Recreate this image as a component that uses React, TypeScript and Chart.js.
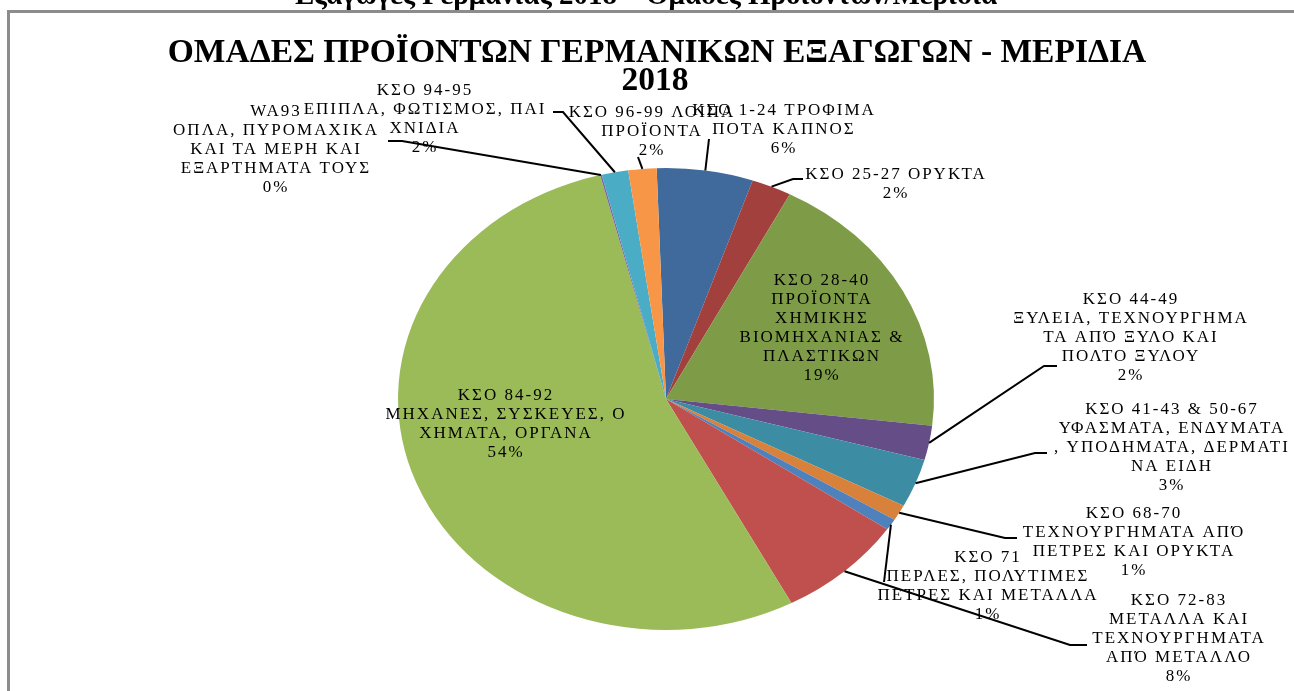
import React, { useEffect, useRef } from "react";
import { Chart, registerables } from "chart.js";

Chart.register(...registerables);

// ---------- data ----------
const pageHeading = "Εξαγωγές Γερμανίας 2018 – Ομάδες Προϊόντων/Μερίδια";
const chartTitle = ["ΟΜΑΔΕΣ ΠΡΟΪΟΝΤΩΝ ΓΕΡΜΑΝΙΚΩΝ ΕΞΑΓΩΓΩΝ - ΜΕΡΙΔΙΑ", "2018"];

const categories = [
  "ΚΣΟ 1-24 ΤΡΟΦΙΜΑ ΠΟΤΑ ΚΑΠΝΟΣ",
  "ΚΣΟ 25-27 ΟΡΥΚΤΑ",
  "ΚΣΟ 28-40 ΠΡΟΪΟΝΤΑ ΧΗΜΙΚΗΣ ΒΙΟΜΗΧΑΝΙΑΣ & ΠΛΑΣΤΙΚΩΝ",
  "ΚΣΟ 44-49 ΞΥΛΕΙΑ, ΤΕΧΝΟΥΡΓΗΜΑΤΑ ΑΠΌ ΞΥΛΟ ΚΑΙ ΠΟΛΤΟ ΞΥΛΟΥ",
  "ΚΣΟ 41-43 & 50-67 ΥΦΑΣΜΑΤΑ, ΕΝΔΥΜΑΤΑ, ΥΠΟΔΗΜΑΤΑ, ΔΕΡΜΑΤΙΝΑ ΕΙΔΗ",
  "ΚΣΟ 68-70 ΤΕΧΝΟΥΡΓΗΜΑΤΑ ΑΠΌ ΠΕΤΡΕΣ ΚΑΙ ΟΡΥΚΤΑ",
  "ΚΣΟ 71 ΠΕΡΛΕΣ, ΠΟΛΥΤΙΜΕΣ ΠΕΤΡΕΣ ΚΑΙ ΜΕΤΑΛΛΑ",
  "ΚΣΟ 72-83 ΜΕΤΑΛΛΑ ΚΑΙ ΤΕΧΝΟΥΡΓΗΜΑΤΑ ΑΠΌ ΜΕΤΑΛΛΟ",
  "ΚΣΟ 84-92 ΜΗΧΑΝΕΣ, ΣΥΣΚΕΥΕΣ, ΟΧΗΜΑΤΑ, ΟΡΓΑΝΑ",
  "WA93 ΟΠΛΑ, ΠΥΡΟΜΑΧΙΚΑ ΚΑΙ ΤΑ ΜΕΡΗ ΚΑΙ ΕΞΑΡΤΗΜΑΤΑ ΤΟΥΣ",
  "ΚΣΟ 94-95 ΕΠΙΠΛΑ, ΦΩΤΙΣΜΟΣ, ΠΑΙΧΝΙΔΙΑ",
  "ΚΣΟ 96-99 ΛΟΙΠΑ ΠΡΟΪΟΝΤΑ",
];

// wrapped label lines as shown in the chart (percentage is appended from the data)
const labelLines = [
  ["ΚΣΟ 1-24 ΤΡΟΦΙΜΑ", "ΠΟΤΑ ΚΑΠΝΟΣ"],
  ["ΚΣΟ 25-27 ΟΡΥΚΤΑ"],
  ["ΚΣΟ 28-40", "ΠΡΟΪΟΝΤΑ", "ΧΗΜΙΚΗΣ", "ΒΙΟΜΗΧΑΝΙΑΣ &", "ΠΛΑΣΤΙΚΩΝ"],
  ["ΚΣΟ 44-49", "ΞΥΛΕΙΑ, ΤΕΧΝΟΥΡΓΗΜΑ", "ΤΑ ΑΠΌ ΞΥΛΟ ΚΑΙ", "ΠΟΛΤΟ ΞΥΛΟΥ"],
  ["ΚΣΟ 41-43 & 50-67", "ΥΦΑΣΜΑΤΑ, ΕΝΔΥΜΑΤΑ", ", ΥΠΟΔΗΜΑΤΑ, ΔΕΡΜΑΤΙ", "ΝΑ ΕΙΔΗ"],
  ["ΚΣΟ 68-70", "ΤΕΧΝΟΥΡΓΗΜΑΤΑ ΑΠΌ", "ΠΕΤΡΕΣ ΚΑΙ ΟΡΥΚΤΑ"],
  ["ΚΣΟ 71", "ΠΕΡΛΕΣ, ΠΟΛΥΤΙΜΕΣ", "ΠΕΤΡΕΣ ΚΑΙ ΜΕΤΑΛΛΑ"],
  ["ΚΣΟ 72-83", "ΜΕΤΑΛΛΑ ΚΑΙ", "ΤΕΧΝΟΥΡΓΗΜΑΤΑ", "ΑΠΌ ΜΕΤΑΛΛΟ"],
  ["ΚΣΟ 84-92", "ΜΗΧΑΝΕΣ, ΣΥΣΚΕΥΕΣ, Ο", "ΧΗΜΑΤΑ, ΟΡΓΑΝΑ"],
  ["WA93", "ΟΠΛΑ, ΠΥΡΟΜΑΧΙΚΑ", "ΚΑΙ ΤΑ ΜΕΡΗ ΚΑΙ", "ΕΞΑΡΤΗΜΑΤΑ ΤΟΥΣ"],
  ["ΚΣΟ 94-95", "ΕΠΙΠΛΑ, ΦΩΤΙΣΜΟΣ, ΠΑΙ", "ΧΝΙΔΙΑ"],
  ["ΚΣΟ 96-99 ΛΟΙΠΑ", "ΠΡΟΪΟΝΤΑ"],
];

// shares in percent
const shares = [5.8, 2.4, 19.2, 2.4, 3.4, 1.1, 0.8, 7.7, 53.8, 0.1, 1.6, 1.7];

const sliceColors = [
  "#416A9C", "#A2403D", "#7E9B47", "#654E87", "#3C8DA3", "#D8813A",
  "#4F81BD", "#C0504D", "#9BBB59", "#8064A2", "#4BACC6", "#F79646",
];

// ---------- layout (label placement, not data) ----------
type Lay = { x: number; y: number; leader: number[][] | null };
const labelLayout: Lay[] = [
  { x: 784, y: 111, leader: [[709, 139]] },
  { x: 896, y: 175, leader: [[793, 179], [803, 179]] },
  { x: 822, y: 281, leader: null },
  { x: 1131, y: 300, leader: [[1044, 366], [1057, 366]] },
  { x: 1172, y: 410, leader: [[1035, 453], [1047, 453]] },
  { x: 1134, y: 514, leader: [[1005, 538], [1017, 538]] },
  { x: 988, y: 558, leader: [[884, 582]] },
  { x: 1179, y: 601, leader: [[1070, 645], [1087, 645]] },
  { x: 506, y: 396, leader: null },
  { x: 276, y: 112, leader: [[402, 141], [388, 141]] },
  { x: 425, y: 91, leader: [[563, 112], [553, 112]] },
  { x: 652, y: 113, leader: [[638, 157]] },
];
const LINE_H = 19;
const STRETCH_X = 1.16;
const LABEL_FONT = '17px "Liberation Serif", "Times New Roman", serif';

const framePlugin = {
  id: "frame",
  beforeDraw(chart: any) {
    const ctx = chart.ctx;
    ctx.save();
    ctx.fillStyle = "#ffffff";
    ctx.fillRect(0, 0, chart.width, chart.height);
    ctx.fillStyle = "#8c8c8c";
    ctx.fillRect(7, 10, 3, chart.height);
    ctx.fillRect(7, 10, chart.width, 3);
    ctx.restore();
  },
};

const stretchPlugin = {
  id: "stretch",
  beforeDatasetsDraw(chart: any) {
    const meta = chart.getDatasetMeta(0);
    const a = meta.data[0];
    const ctx = chart.ctx;
    ctx.save();
    ctx.translate(a.x, a.y);
    ctx.scale(STRETCH_X, 1);
    ctx.translate(-a.x, -a.y);
  },
  afterDatasetsDraw(chart: any) {
    chart.ctx.restore();
  },
};

const labelsPlugin = {
  id: "sliceLabels",
  afterDraw(chart: any) {
    const ctx = chart.ctx;
    const meta = chart.getDatasetMeta(0);
    const total = shares.reduce((s, v) => s + v, 0);
    ctx.save();
    // headings
    ctx.fillStyle = "#000";
    ctx.textAlign = "center";
    ctx.textBaseline = "alphabetic";
    ctx.font = 'bold 29px "Liberation Serif", "Times New Roman", serif';
    ctx.fillText(pageHeading, 646, 4);
    ctx.font = 'bold 33.5px "Liberation Serif", "Times New Roman", serif';
    ctx.fillText(chartTitle[0], 657, 62);
    ctx.fillText(chartTitle[1], 655, 90);

    ctx.strokeStyle = "#000";
    ctx.lineWidth = 2;
    ctx.font = LABEL_FONT;
    (ctx as any).letterSpacing = "2px";
    ctx.textBaseline = "middle";
    meta.data.forEach((arc: any, i: number) => {
      const p = arc.getProps(["x", "y", "startAngle", "endAngle", "outerRadius"], true);
      const mid = (p.startAngle + p.endAngle) / 2;
      const px = p.x + STRETCH_X * p.outerRadius * Math.cos(mid);
      const py = p.y + p.outerRadius * Math.sin(mid);
      const lay = labelLayout[i];
      if (lay.leader) {
        ctx.beginPath();
        ctx.moveTo(px, py);
        lay.leader.forEach(([lx, ly]) => ctx.lineTo(lx, ly));
        ctx.stroke();
      }
      const lines = [...labelLines[i], Math.round((shares[i] / total) * 100) + "%"];
      lines.forEach((t, k) => ctx.fillText(t, lay.x, lay.y + k * LINE_H));
    });
    ctx.restore();
  },
};

export default function App() {
  const ref = useRef<HTMLCanvasElement | null>(null);
  useEffect(() => {
    if (!ref.current) return;
    const chart = new Chart(ref.current, {
      type: "pie",
      data: {
        labels: categories,
        datasets: [
          {
            data: shares,
            backgroundColor: sliceColors,
            borderWidth: 0,
            clip: false as any,
          },
        ],
      },
      options: {
        animation: false,
        responsive: true,
        maintainAspectRatio: false,
        events: [],
        rotation: -2,
        layout: { padding: { top: 168, bottom: 61, left: 300, right: 262 } },
        plugins: {
          legend: { display: false },
          title: { display: false },
          tooltip: { enabled: false },
        },
      },
      plugins: [framePlugin, stretchPlugin, labelsPlugin],
    });
    return () => chart.destroy();
  }, []);
  return (
    <div style={{ position: "fixed", left: 0, top: 0, width: 1294, height: 691, background: "#fff" }}>
      <canvas ref={ref} />
    </div>
  );
}
